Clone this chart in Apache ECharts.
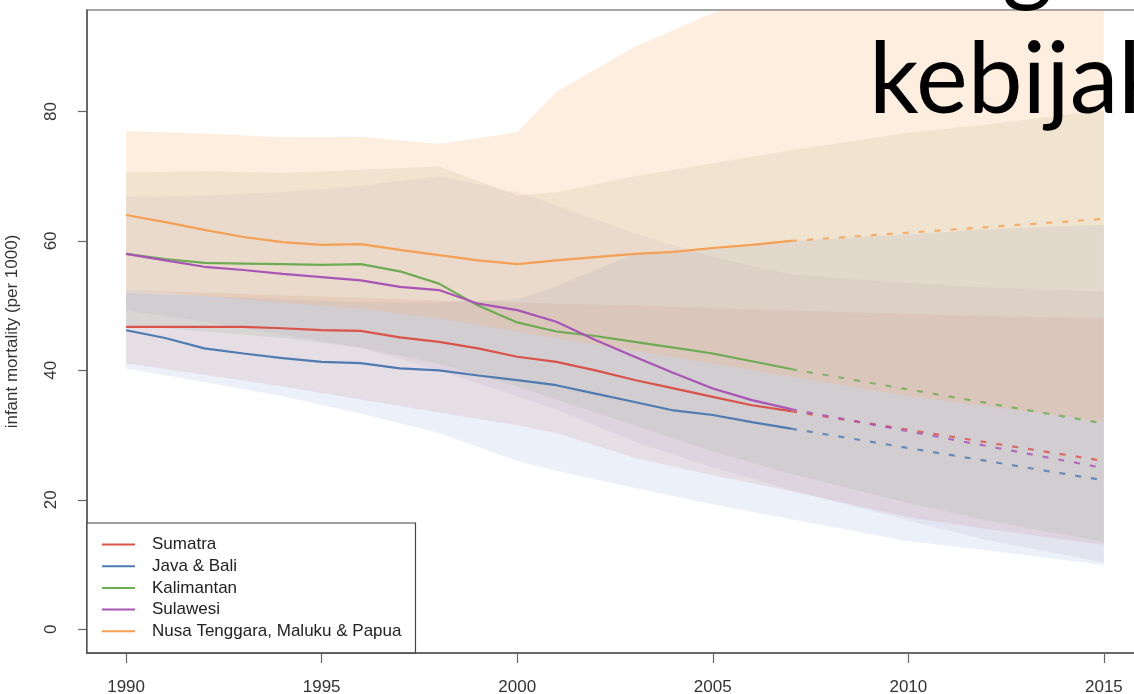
<!DOCTYPE html>
<html>
<head>
<meta charset="utf-8">
<script src="https://cdn.jsdelivr.net/npm/echarts@6/dist/echarts.min.js"></script>
<style>
  html, body {margin: 0; padding: 0; background: #fff;}
  #chart {width: 1134px; height: 694px;}
</style>
</head>
<body>
<div id="chart"></div>
<script>
// observed years (solid lines) and projection end points (dashed)
const years = [1990, 1991, 1992, 1993, 1994, 1995, 1996, 1997, 1998, 1999,
               2000, 2001, 2002, 2003, 2004, 2005, 2006, 2007];
const sumatra    = [46.7, 46.7, 46.7, 46.7, 46.5, 46.2, 46.1, 45.1, 44.4, 43.4, 42.1, 41.3, 40.0, 38.5, 37.2, 35.9, 34.6, 33.7];
const javaBali   = [46.2, 45.0, 43.4, 42.6, 41.9, 41.3, 41.1, 40.3, 40.0, 39.2, 38.5, 37.7, 36.4, 35.1, 33.8, 33.1, 32.0, 31.0];
const kalimantan = [58.0, 57.2, 56.6, 56.5, 56.4, 56.3, 56.4, 55.3, 53.4, 50.0, 47.4, 46.0, 45.3, 44.4, 43.5, 42.6, 41.4, 40.2];
const sulawesi   = [58.0, 57.0, 56.0, 55.5, 54.9, 54.4, 53.9, 52.9, 52.4, 50.3, 49.3, 47.5, 44.7, 42.1, 39.6, 37.2, 35.4, 34.0];
const ntmp       = [64.0, 62.9, 61.7, 60.6, 59.8, 59.4, 59.5, 58.6, 57.8, 57.0, 56.4, 57.0, 57.5, 58.0, 58.3, 58.9, 59.4, 60.0];

const projYears = [2007, 2015];
const sumatraProj    = [33.7, 26.0];
const javaBaliProj   = [31.0, 23.0];
const kalimantanProj = [40.2, 31.8];
const sulawesiProj   = [34.0, 24.9];
const ntmpProj       = [60.0, 63.4];

// uncertainty bands
const bandYears = [1990, 1992, 1994, 1996, 1998, 2000, 2001, 2003, 2005, 2007, 2010, 2012, 2015];
const sumatraLow     = [41.1, 39.3, 37.5, 35.5, 33.5, 31.5, 30.3, 26.5, 23.8, 21.3, 17.3, 15.5, 13.0];
const sumatraHigh    = [52.4, 52.0, 51.6, 51.2, 50.8, 50.5, 50.3, 50.0, 49.6, 49.2, 48.7, 48.4, 48.0];
const javaBaliLow    = [40.3, 38.2, 36.0, 33.3, 30.3, 26.0, 24.5, 21.8, 19.3, 17.0, 13.6, 12.2, 9.9];
const javaBaliHigh   = [52.0, 51.5, 51.0, 50.5, 50.5, 51.0, 53.0, 58.0, 59.0, 60.0, 61.0, 61.8, 62.5];
const kalimantanLow  = [47.0, 46.0, 45.0, 43.5, 41.0, 37.5, 35.5, 31.5, 27.5, 24.0, 19.5, 16.8, 13.5];
const kalimantanHigh = [70.6, 70.8, 70.5, 71.0, 71.5, 67.0, 67.5, 70.0, 72.0, 74.0, 76.7, 78.0, 80.2];
const sulawesiLow    = [49.3, 47.5, 45.5, 43.5, 40.0, 36.0, 34.0, 29.0, 25.0, 21.5, 16.8, 13.8, 10.3];
const sulawesiHigh   = [66.8, 67.0, 67.5, 68.5, 70.0, 67.5, 65.5, 61.2, 57.5, 54.8, 53.5, 52.8, 52.2];
const ntmpLow        = [52.4, 51.5, 50.5, 49.5, 48.0, 46.0, 45.0, 43.0, 41.0, 39.0, 36.0, 34.5, 32.0];
const ntmpHigh       = [77.0, 76.6, 76.0, 76.1, 75.0, 76.8, 83.0, 90.0, 95.2, 99.0, 104.0, 107.0, 110.0];

const xTicks = [1990, 1995, 2000, 2005, 2010, 2015];
const yTicks = [0, 20, 40, 60, 80];

const regions = [
  {name: 'Sumatra', line: '#d9534a', fill: 'rgba(215,105,95,0.14)', v: sumatra, p: sumatraProj, lo: sumatraLow, hi: sumatraHigh},
  {name: 'Java & Bali', line: '#4f7bb0', fill: 'rgba(110,150,210,0.14)', v: javaBali, p: javaBaliProj, lo: javaBaliLow, hi: javaBaliHigh},
  {name: 'Kalimantan', line: '#6fab55', fill: 'rgba(140,170,120,0.15)', v: kalimantan, p: kalimantanProj, lo: kalimantanLow, hi: kalimantanHigh},
  {name: 'Sulawesi', line: '#a855b5', fill: 'rgba(160,130,175,0.10)', v: sulawesi, p: sulawesiProj, lo: sulawesiLow, hi: sulawesiHigh},
  {name: 'Nusa Tenggara, Maluku & Papua', line: '#f4a055', fill: 'rgba(250,170,100,0.2)', v: ntmp, p: ntmpProj, lo: ntmpLow, hi: ntmpHigh},
];

const font = "'Liberation Sans', Arial, sans-serif";
const pair = (xs, ys) => xs.map((x, i) => [x, ys[i]]);

function band(r) {
  return {
    type: 'custom',
    name: r.name + ' band',
    silent: true,
    clip: true,
    z: 1,
    data: bandYears.map((y, i) => [y, r.lo[i], r.hi[i]]),
    encode: {x: 0, y: [1, 2]},
    renderItem: (params, api) => {
      if (params.dataIndex !== 0) return;
      const top = bandYears.map((y, i) => api.coord([y, r.hi[i]]));
      const bottom = bandYears.map((y, i) => api.coord([y, r.lo[i]])).reverse();
      return {type: 'polygon', shape: {points: top.concat(bottom)}, style: {fill: r.fill}};
    },
  };
}

const series = [];
regions.forEach(r => series.push(band(r)));
regions.forEach(r => {
  series.push({
    type: 'line', name: r.name, data: pair(years, r.v), symbol: 'none', z: 3,
    lineStyle: {color: r.line, width: 2.2}, itemStyle: {color: r.line},
  });
  series.push({
    type: 'line', name: r.name, data: pair(projYears, r.p), symbol: 'none', z: 3,
    lineStyle: {color: r.line, width: 2.2, type: [6, 10], opacity: 0.8}, itemStyle: {color: r.line},
  });
});

const chart = echarts.init(document.getElementById('chart'), null, {renderer: 'canvas'});
chart.setOption({
  animation: false,
  backgroundColor: '#fff',
  grid: {
    left: 87, top: 10, width: 1056, height: 643, outerBoundsMode: 'none',
    show: true, borderColor: '#888', borderWidth: 1.5,
  },
  xAxis: {
    type: 'value', min: 1989, max: 2016,
    axisLine: {onZero: false, lineStyle: {color: '#555', width: 1.5}},
    axisTick: {show: true, length: 10, lineStyle: {color: '#666', width: 1.2}, customValues: xTicks},
    axisLabel: {customValues: xTicks, formatter: v => String(v), margin: 26, fontSize: 17, fontFamily: font, color: '#333'},
    splitLine: {show: false},
  },
  yAxis: {
    type: 'value', min: -3.68, max: 95.68,
    name: 'infant mortality (per 1000)', nameLocation: 'middle', nameRotate: 90, nameGap: 66,
    nameTextStyle: {fontSize: 17, fontFamily: font, color: '#333'},
    axisLine: {show: true, lineStyle: {color: '#555', width: 1.5}},
    axisTick: {show: true, length: 9, lineStyle: {color: '#666', width: 1.2}, customValues: yTicks},
    axisLabel: {customValues: yTicks, rotate: 90, margin: 27, fontSize: 17, fontFamily: font, color: '#333'},
    splitLine: {show: false},
  },
  legend: {
    orient: 'vertical', left: 87, top: 523,
    data: regions.map(r => r.name),
    icon: 'rect', itemWidth: 33, itemHeight: 2, itemGap: 4.7,
    padding: [13, 14, 13, 15],
    backgroundColor: '#fff', borderColor: '#444', borderWidth: 1.2,
    selectedMode: false,
    textStyle: {fontSize: 17, fontFamily: font, color: '#222', lineHeight: 17, padding: [0, 0, 0, 12]},
  },
  graphic: [
    {type: 'text', left: 869, top: 32, z: 100, style: {text: 'kebijakan', fontSize: 98, fontFamily: "Lato, 'Open Sans', sans-serif", fill: '#000'}},
    {type: 'text', left: 1002, top: -88, z: 100, style: {text: 'g', fontSize: 98, fontFamily: "Lato, 'Open Sans', sans-serif", fill: '#000'}},
  ],
  series,
});
</script>
</body>
</html>
